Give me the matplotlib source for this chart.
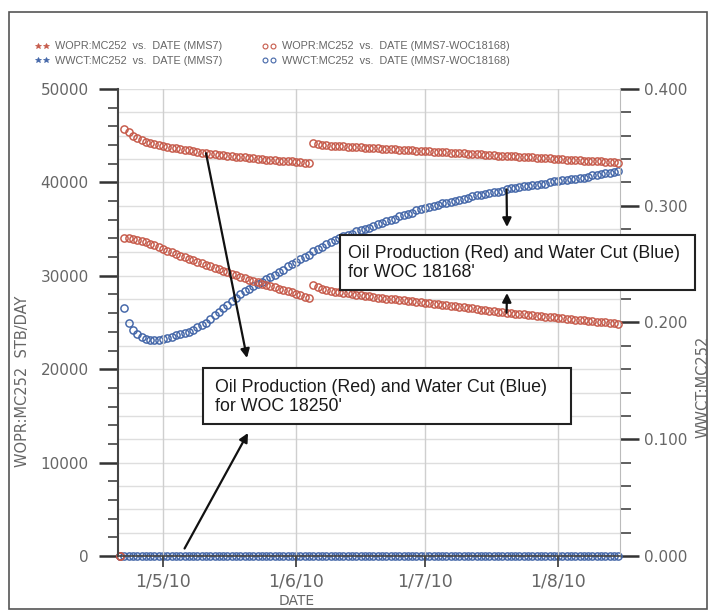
import matplotlib
matplotlib.use("Agg")
import matplotlib.pyplot as plt
import matplotlib.patches as patches
from matplotlib.lines import Line2D
from matplotlib.ticker import MultipleLocator
import numpy as np
import pandas as pd

# daily simulator output, 21 Apr 2010 .. 15 Aug 2010
DATE_START = "2010-04-21"
DATE_END = "2010-08-15"

# WOPR (STB/DAY), base case MMS7 (WOC 18250')
WOPR_MMS7 = [
    0,
    45700, 45400, 45000, 44750, 44520, 44330, 44180, 44060, 43960,
    43880, 43800, 43720, 43650, 43580, 43500, 43420, 43350, 43270, 43200,
    43120, 43070, 43010, 42960, 42900, 42850, 42800, 42760, 42710, 42670,
    42620, 42580, 42530, 42490, 42440, 42400, 42370, 42340, 42310, 42280, 42250,
    42200, 42150, 42100, 42050,
    44200, 44120, 44050, 43990, 43950, 43910,
    43880, 43850, 43830, 43800, 43770, 43750, 43720, 43690, 43670, 43640,
    43610, 43590, 43560, 43530, 43500, 43480, 43450, 43420, 43400, 43370,
    43340, 43320, 43290, 43260, 43240, 43210, 43180, 43150, 43130, 43100,
    43070, 43050, 43020, 42990, 42970, 42940, 42910, 42880, 42860, 42830,
    42800, 42780, 42750, 42720, 42700, 42670, 42640, 42610, 42590, 42560, 42530,
    42510, 42480, 42450, 42430, 42400, 42370, 42340, 42320, 42290, 42260,
    42240, 42210, 42180, 42160, 42130,
]

# WOPR (STB/DAY), MMS7-WOC18168
WOPR_WOC18168 = [
    0,
    34080, 34000, 33920, 33830, 33720, 33580, 33420, 33250, 33070,
    32880, 32700, 32520, 32340, 32160, 31990, 31820, 31660, 31490, 31330,
    31160, 31010, 30860, 30700, 30550, 30400, 30230, 30060, 29900, 29730,
    29560, 29430, 29290, 29160, 29020, 28890, 28760, 28620, 28490, 28350, 28220,
    28070, 27920, 27760, 27610,
    29000, 28800, 28620, 28480, 28370, 28270,
    28230, 28180, 28120, 28060, 27990, 27930, 27860, 27800, 27730, 27660,
    27610, 27560, 27520, 27470, 27420, 27370, 27320, 27280, 27230, 27180,
    27120, 27070, 27010, 26960, 26900, 26840, 26790, 26730, 26680, 26620,
    26560, 26510, 26450, 26390, 26330, 26280, 26220, 26160, 26100, 26050,
    26000, 25960, 25910, 25860, 25810, 25770, 25720, 25670, 25630, 25580, 25540,
    25490, 25450, 25400, 25360, 25320, 25270, 25230, 25180, 25140, 25100,
    25060, 25010, 24970, 24930, 24880,
]

# WWCT (fraction), MMS7-WOC18168
WWCT_WOC18168 = [
    0.0,
    0.212, 0.200, 0.194, 0.190, 0.188, 0.186, 0.185, 0.185, 0.185,
    0.186, 0.187, 0.188, 0.189, 0.190, 0.191, 0.192, 0.194, 0.196, 0.198,
    0.200, 0.203, 0.206, 0.209, 0.212, 0.215, 0.218, 0.221, 0.224, 0.227,
    0.229, 0.231, 0.233, 0.235, 0.237, 0.239, 0.241, 0.243, 0.245, 0.248, 0.250,
    0.252, 0.254, 0.256, 0.258, 0.261, 0.263, 0.265, 0.267, 0.269, 0.271,
    0.272, 0.274, 0.275, 0.276, 0.278, 0.279, 0.280, 0.281, 0.283, 0.284,
    0.285, 0.287, 0.288, 0.289, 0.291, 0.292, 0.293, 0.294, 0.296, 0.297,
    0.298, 0.299, 0.300, 0.301, 0.302, 0.302, 0.303, 0.304, 0.305, 0.306,
    0.307, 0.308, 0.309, 0.309, 0.310, 0.311, 0.312, 0.312, 0.313, 0.314,
    0.315, 0.315, 0.316, 0.317, 0.317, 0.318, 0.318, 0.319, 0.319, 0.320, 0.321,
    0.321, 0.322, 0.322, 0.323, 0.323, 0.324, 0.324, 0.325, 0.326, 0.326,
    0.327, 0.328, 0.328, 0.329, 0.330,
]

# WWCT base case stays at zero for the whole run
WWCT_MMS7 = [0.0] * len(WWCT_WOC18168)

TICK_DATES = ["2010-05-01", "2010-06-01", "2010-07-01", "2010-08-01"]
TICK_LABELS = ["1/5/10", "1/6/10", "1/7/10", "1/8/10"]

LEGEND_LABELS = [
    "WOPR:MC252  vs.  DATE (MMS7)",
    "WWCT:MC252  vs.  DATE (MMS7)",
    "WOPR:MC252  vs.  DATE (MMS7-WOC18168)",
    "WWCT:MC252  vs.  DATE (MMS7-WOC18168)",
]

BOX_TEXT_1 = "Oil Production (Red) and Water Cut (Blue)\nfor WOC 18168'"
BOX_TEXT_2 = "Oil Production (Red) and Water Cut (Blue)\nfor WOC 18250'"

RED = "#c65a4a"
BLUE = "#4366a8"
GRAY_TXT = "#666666"

W, H = 710, 612


def fx(px):
    return px / W


def fy(py):
    return 1 - py / H


dates = pd.date_range(DATE_START, DATE_END, freq="D")

fig = plt.figure(figsize=(7.1, 6.12), dpi=100)
ax = fig.add_axes([fx(118), fy(556), fx(620) - fx(118), fy(89) - fy(556)])
ax2 = ax.twinx()

# red on top of blue, grid from the right axis underneath
ax.set_zorder(ax2.get_zorder() + 1)
ax.patch.set_visible(False)

mk = dict(ls="none", marker="o", ms=5.2, mfc="none", mew=1.05, clip_on=False)
ax2.plot(dates, WWCT_MMS7, color=BLUE, **mk)
ax2.plot(dates, WWCT_WOC18168, color=BLUE, **mk)
ax.plot(dates, WOPR_WOC18168, color=RED, **mk)
ax.plot(dates, WOPR_MMS7, color=RED, **mk)

ax.set_xlim(pd.Timestamp("2010-04-20 12:00"), pd.Timestamp("2010-08-15 10:00"))
ax.set_ylim(0, 50000)
ax2.set_ylim(0, 0.4)

ax.yaxis.set_major_locator(MultipleLocator(10000))
ax.yaxis.set_minor_locator(MultipleLocator(2000))
ax2.yaxis.set_major_locator(MultipleLocator(0.1))
ax2.yaxis.set_minor_locator(MultipleLocator(0.02))
ax2.yaxis.set_major_formatter(matplotlib.ticker.FormatStrFormatter("%.3f"))

ax.set_xticks(pd.to_datetime(TICK_DATES))
ax.set_xticklabels(TICK_LABELS)

# grid
ax.xaxis.grid(True, color="#cfcfcf", lw=1)
ax2.yaxis.grid(True, which="both", color="#dedede", lw=1)
ax2.set_axisbelow(True)

# ticks
ax.tick_params(axis="y", which="major", direction="out", length=14, width=1.8,
               color="#333333", labelsize=11, labelcolor=GRAY_TXT, pad=7)
ax.tick_params(axis="y", which="minor", direction="out", length=7, width=1.2, color="#444444")
ax2.tick_params(axis="y", which="major", direction="out", length=14, width=1.8,
                color="#333333", labelsize=11, labelcolor=GRAY_TXT, pad=3)
ax2.tick_params(axis="y", which="minor", direction="out", length=8, width=1.2, color="#444444")
ax.tick_params(axis="x", direction="out", length=8, width=1.3, color="#444444",
               labelsize=12.5, labelcolor=GRAY_TXT, pad=4)

for s in ["top", "right"]:
    ax.spines[s].set_visible(False)
for s in ["top", "left", "bottom"]:
    ax2.spines[s].set_visible(False)
ax.spines["left"].set_color("#444444")
ax.spines["left"].set_linewidth(1.5)
ax.spines["bottom"].set_color("#444444")
ax.spines["bottom"].set_linewidth(1.2)
ax2.spines["right"].set_color("#bbbbbb")
ax2.spines["right"].set_linewidth(0.8)

# axis labels
fig.text(fx(297), fy(601), "DATE", ha="center", va="center", fontsize=10, color=GRAY_TXT)
fig.text(fx(23), fy(381), "WOPR:MC252  STB/DAY", ha="center", va="center",
         rotation=90, fontsize=10.5, color=GRAY_TXT)
fig.text(fx(703), fy(387), "WWCT:MC252", ha="center", va="center",
         rotation=90, fontsize=10.5, color=GRAY_TXT)

# legend, two columns above the plot
handles = [
    Line2D([], [], ls="none", marker="*", ms=4, color=RED, mew=0.5),
    Line2D([], [], ls="none", marker="*", ms=4, color=BLUE, mew=0.5),
    Line2D([], [], ls="none", marker="o", ms=3.5, mfc="none", mec=RED, mew=0.8),
    Line2D([], [], ls="none", marker="o", ms=3.5, mfc="none", mec=BLUE, mew=0.8),
]
leg_kw = dict(frameon=False, numpoints=2, handlelength=1.4, handletextpad=0.5,
              labelspacing=0.45, loc="upper left", labelcolor=GRAY_TXT,
              prop={"family": "Liberation Sans", "size": 7.8}, borderaxespad=0)
fig.legend(handles[:2], LEGEND_LABELS[:2], bbox_to_anchor=(fx(30), fy(37)), **leg_kw)
fig.legend(handles[2:], LEGEND_LABELS[2:], bbox_to_anchor=(fx(257), fy(37)), **leg_kw)

# annotation boxes
box_kw = dict(transform=fig.transFigure, fc="white", ec="#222222", lw=1.5, zorder=5)
fig.add_artist(patches.Rectangle((fx(340), fy(290)), fx(695) - fx(340), fy(235) - fy(290), **box_kw))
fig.add_artist(patches.Rectangle((fx(203), fy(424)), fx(571) - fx(203), fy(368) - fy(424), **box_kw))
txt_kw = dict(ha="left", va="center", fontsize=12.8, color="#1a1a1a",
              family="Liberation Sans", linespacing=1.2, zorder=6)
fig.text(fx(348), fy(263), BOX_TEXT_1, **txt_kw)
fig.text(fx(215), fy(397), BOX_TEXT_2, **txt_kw)

arrow = dict(arrowstyle="-|>", lw=1.6, color="#111111", mutation_scale=13,
             shrinkA=0, shrinkB=0)
ax.annotate("", xy=(fx(247), fy(358)), xycoords="figure fraction",
            xytext=(pd.Timestamp("2010-05-11"), 43120), textcoords="data", arrowprops=arrow)
ax.annotate("", xy=(fx(248), fy(433)), xycoords="figure fraction",
            xytext=(pd.Timestamp("2010-05-06"), 800), textcoords="data", arrowprops=arrow)
ax.annotate("", xy=(fx(507), fy(227)), xycoords="figure fraction",
            xytext=(pd.Timestamp("2010-07-20"), 0.314 * 125000), textcoords="data", arrowprops=arrow)
ax.annotate("", xy=(fx(507), fy(293)), xycoords="figure fraction",
            xytext=(pd.Timestamp("2010-07-20"), 26050), textcoords="data", arrowprops=arrow)

# outer frame
fig.add_artist(patches.Rectangle((fx(9), fy(609)), fx(707) - fx(9), fy(12) - fy(609),
                                 transform=fig.transFigure, fill=False, ec="#555555", lw=1.2))

fig.savefig("out.png", dpi=100)
